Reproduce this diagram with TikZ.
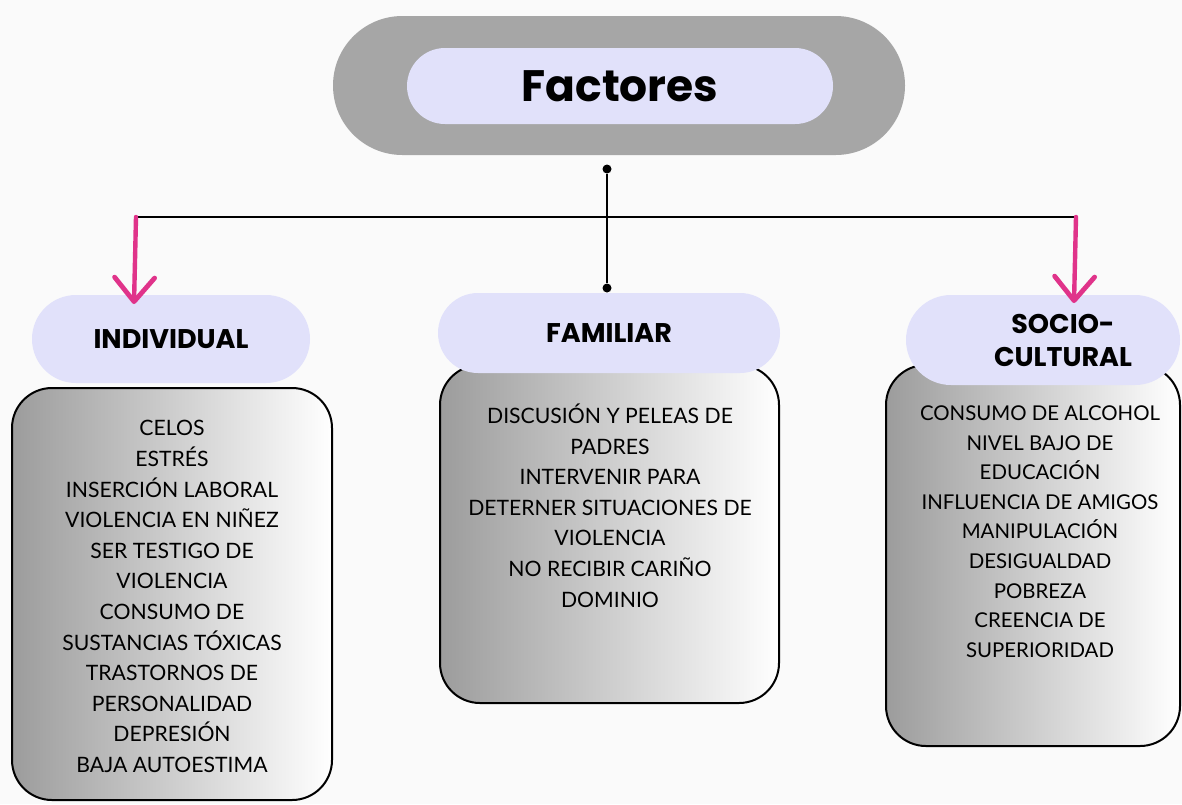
\documentclass[tikz,border=0pt]{standalone}
\usepackage{fontspec}
\setmainfont{Lato}
\newfontfamily\titfont{Poppins}
\usetikzlibrary{arrows.meta}
\definecolor{fondo}{HTML}{FAFAFA}
\definecolor{pildora}{HTML}{A6A6A6}
\definecolor{lavanda}{HTML}{E1E1FA}
\definecolor{rosa}{HTML}{E0338A}
\definecolor{grisbox}{HTML}{9C9C9C}

\tikzset{pnode/.style = {shape = rectangle,
                                    fill = lavanda,
                                    inner sep=0pt,
                                    align=center,
                                    font=\titfont\bfseries\fontsize{13.5}{16.5}\selectfont},
         cnode/.style = {shape = rectangle,
                                    draw = black,
                                    line width = 1pt,
                                    left color = grisbox,
                                    right color = white,
                                    rounded corners = 20pt,
                                    inner sep=0pt},
         tnode/.style = {align=center,
                                    inner sep=0pt,
                                    font=\fontsize{10.6}{15.3}\selectfont},
         dnode/.style = {shape = circle,
                                    fill = black,
                                    inner sep=0pt,
                                    minimum size = 4.5pt}}

\begin{document}
\begin{tikzpicture}[x=0.5pt, y=-0.5pt,
                    linea/.style = {draw=black, line width=1pt},
                    flecha/.style = {draw=rosa, line width=2.2pt, line cap=round,
                                     -{Straight Barb[length=12pt,width=20pt,line width=2.4pt,round]}}]
		\fill[fondo] (0,0) rectangle (1182,804);
		\node[shape=rectangle, fill=pildora, minimum width=286pt, minimum height=69.5pt,
		      rounded corners=34.7pt] (marco) at (619,85.5) {};
		\node[pnode, minimum width=213pt, minimum height=38pt, rounded corners=19pt,
		      font=\titfont\bfseries\fontsize{22}{26}\selectfont] (factores) at (620,86) {Factores};
		\node[cnode, minimum width=160pt, minimum height=206pt] (indbox) at (172,594) {};
		\node[cnode, minimum width=169.5pt, minimum height=169pt] (fambox) at (609.5,534) {};
		\node[cnode, minimum width=147pt, minimum height=190.5pt] (socbox) at (1033,555.5) {};
		\node[pnode, minimum width=139pt, minimum height=44pt, rounded corners=22pt] (ind) at (171,339) {INDIVIDUAL};
		\node[pnode, minimum width=171pt, minimum height=40pt, rounded corners=20pt] (fam) at (609,333) {FAMILIAR};
		\node[pnode, minimum width=137pt, minimum height=45pt, rounded corners=22.5pt] (soc) at (1043,340) {\hspace*{20pt}SOCIO-\\\hspace*{20pt}CULTURAL};
		\node[tnode] (indtxt) at (172,596.5) {CELOS\\ESTRÉS\\INSERCIÓN LABORAL\\VIOLENCIA EN NIÑEZ\\SER TESTIGO DE\\VIOLENCIA\\CONSUMO DE\\SUSTANCIAS TÓXICAS\\TRASTORNOS DE\\PERSONALIDAD\\DEPRESIÓN\\BAJA AUTOESTIMA};
		\node[tnode] (famtxt) at (610,505.5) {DISCUSIÓN Y PELEAS DE\\PADRES\\INTERVENIR PARA\\DETERNER SITUACIONES DE\\VIOLENCIA\\NO RECIBIR CARIÑO\\DOMINIO};
		\node[tnode, font=\fontsize{10.2}{14.8}\selectfont] (soctxt) at (1040,531.5) {CONSUMO DE ALCOHOL\\NIVEL BAJO DE\\EDUCACIÓN\\INFLUENCIA DE AMIGOS\\MANIPULACIÓN\\DESIGUALDAD\\POBREZA\\CREENCIA DE\\SUPERIORIDAD};
		\node[dnode] (d1) at (607,169) {};
		\node[dnode] (d2) at (607,288) {};
		\coordinate (izq) at (136,217);
		\coordinate (der) at (1076,217);
		\coordinate (fizq) at (134,304);
		\coordinate (fder) at (1074,303);
		\draw[linea] (izq) -- (der);
		\draw[linea] (d1) -- (d2);
		\draw[flecha] (izq) -- (fizq);
		\draw[flecha] (der) -- (fder);
	\end{tikzpicture}
\end{document}
